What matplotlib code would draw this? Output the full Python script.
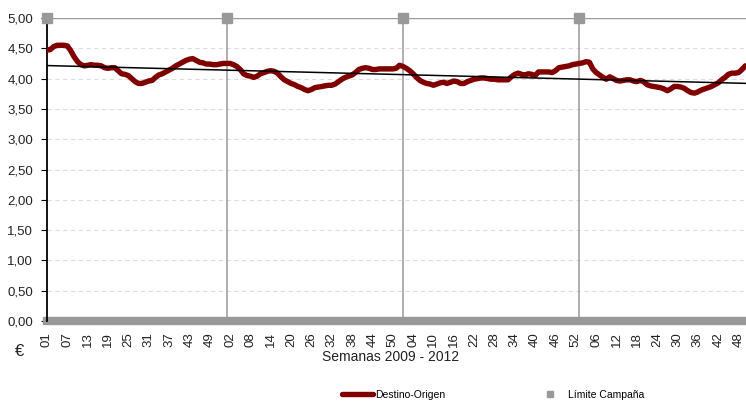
import matplotlib.pyplot as plt
import numpy as np

plt.rcParams["font.family"] = ["Liberation Sans", "DejaVu Sans"]

# weekly price Destino-Origen, 2009 wk01 .. 2012 wk50 (EUR)
precio = [
    4.47, 4.48, 4.53, 4.55, 4.55, 4.55, 4.54, 4.46, 4.36, 4.28,
    4.23, 4.21, 4.22, 4.23, 4.22, 4.22, 4.21, 4.18, 4.17, 4.18,
    4.18, 4.13, 4.08, 4.07, 4.05, 4.00, 3.95, 3.92, 3.92, 3.94,
    3.96, 3.97, 4.02, 4.06, 4.08, 4.11, 4.14, 4.17, 4.21, 4.24,
    4.27, 4.30, 4.32, 4.33, 4.30, 4.27, 4.26, 4.24, 4.24, 4.23,
    4.23, 4.24, 4.25, 4.25, 4.25, 4.23, 4.20, 4.15, 4.08, 4.05,
    4.04, 4.02, 4.04, 4.08, 4.10, 4.12, 4.13, 4.12, 4.09, 4.03,
    3.98, 3.95, 3.92, 3.90, 3.87, 3.85, 3.82, 3.80, 3.82, 3.85,
    3.86, 3.87, 3.88, 3.89, 3.89, 3.91, 3.95, 3.99, 4.02, 4.04,
    4.06, 4.10, 4.15, 4.17, 4.18, 4.17, 4.15, 4.15, 4.16, 4.16,
    4.16, 4.16, 4.16, 4.17, 4.22, 4.20, 4.17, 4.13, 4.08, 4.02,
    3.97, 3.94, 3.92, 3.91, 3.89, 3.91, 3.93, 3.94, 3.92, 3.94,
    3.96, 3.95, 3.92, 3.92, 3.95, 3.97, 3.99, 4.00, 4.01, 4.01,
    4.00, 3.99, 3.99, 3.98, 3.98, 3.98, 3.98, 4.03, 4.07, 4.09,
    4.07, 4.06, 4.08, 4.07, 4.05, 4.11, 4.11, 4.11, 4.11, 4.10,
    4.13, 4.18, 4.19, 4.20, 4.21, 4.23, 4.24, 4.25, 4.26, 4.28,
    4.27, 4.16, 4.10, 4.06, 4.02, 3.99, 4.03, 4.00, 3.97, 3.96,
    3.97, 3.98, 3.98, 3.96, 3.95, 3.97, 3.95, 3.90, 3.88, 3.87,
    3.86, 3.85, 3.83, 3.80, 3.83, 3.87, 3.87, 3.86, 3.84, 3.80,
    3.77, 3.76, 3.78, 3.81, 3.83, 3.85, 3.87, 3.90, 3.93, 3.98,
    4.02, 4.07, 4.09, 4.09, 4.10, 4.15, 4.21,
]

# week number shown every 6 weeks
semanas = [
    "01", "07", "13", "19", "25", "31", "37", "43", "49",
    "02", "08", "14", "20", "26", "32", "38", "44", "50",
    "04", "10", "16", "22", "28", "34", "40", "46", "52",
    "06", "12", "18", "24", "30", "36", "42", "48",
]

# index of first week of each campaign
limites = [0, 53, 105, 157]

gris = "#999999"
rojo = "#800000"

fig = plt.figure(figsize=(7.46, 4.01), dpi=100)
ax = fig.add_axes([47 / 746, 80 / 401, 699 / 746, 303 / 401])

x = np.arange(len(precio))
ax.set_xlim(0, 206.2)
ax.set_ylim(0, 5)

for v in np.arange(0.5, 5, 0.5):
    ax.axhline(v, color="#dddddd", lw=0.8, ls=(0, (4, 3)), zorder=0)
ax.axhline(5, color=gris, lw=1.0, zorder=1)

ax.vlines(limites[1:], 0, 5, color=gris, lw=1.1, zorder=1)
ax.axhline(0, color=gris, lw=6, clip_on=False, zorder=2)

ax.plot(x, precio, color=rojo, lw=3.9, solid_capstyle="round",
        solid_joinstyle="round", label="Destino-Origen", zorder=3)

# linear trend
coef = np.polyfit(x, precio, 1)
ax.plot(x, np.polyval(coef, x), color="black", lw=1.1, zorder=4)

ax.plot(limites, [5] * len(limites), "s", color=gris, ms=7, ls="none",
        clip_on=False, label="Límite Campaña", zorder=5)

for s in ["top", "right", "bottom"]:
    ax.spines[s].set_visible(False)
ax.spines["left"].set_color("black")
ax.spines["left"].set_linewidth(1.3)

yt = np.arange(0, 5.01, 0.5)
ax.set_yticks(yt)
ax.set_yticklabels([f"{v:.2f}".replace(".", ",") for v in yt])
ax.tick_params(axis="y", length=4, width=0.8, pad=6, labelsize=9.5,
               labelcolor="#222222")

ax.set_xticks(np.arange(0, 6 * len(semanas), 6))
ax.set_xticklabels(semanas, rotation=90)
ax.tick_params(axis="x", length=0, pad=8, labelsize=9.5, labelcolor="#222222")

fig.text(391 / 746, 1 - 357 / 401, "Semanas 2009 - 2012", ha="center",
         va="center", fontsize=10, color="#222222")
fig.text(20 / 746, 1 - 352 / 401, "€", ha="center", va="center",
         fontsize=12, color="#222222")

fig.legend(loc="center", bbox_to_anchor=(493 / 746, 1 - 395 / 401), ncol=2,
           frameon=False, fontsize=7.5, columnspacing=8.6, handlelength=3,
           handletextpad=0.15, markerscale=0.6)

fig.savefig("out.png", dpi=100)
